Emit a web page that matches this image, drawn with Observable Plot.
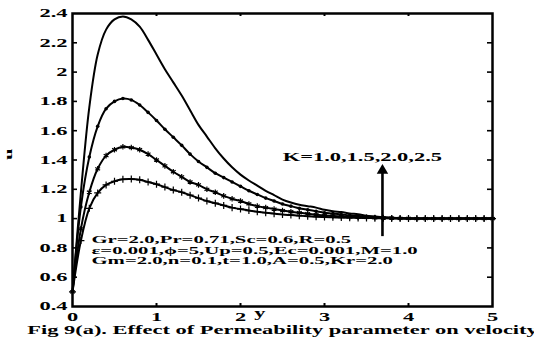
<!DOCTYPE html>
<html><head><meta charset="utf-8">
<script src="https://cdn.jsdelivr.net/npm/d3@7"></script>
<script src="https://cdn.jsdelivr.net/npm/@observablehq/plot@0.6"></script>
<style>
html,body{margin:0;padding:0;background:#fff}
#chart svg{display:block}
#chart svg text{font-family:'Liberation Serif','Times New Roman',serif;font-weight:bold;fill:#000}
</style>
</head><body><div id="chart"></div>
<script>
// distance y (horizontal axis)
const yPos = [0,0.1,0.2,0.3,0.4,0.5,0.6,0.7,0.8,0.9,1.0,1.1,1.2,1.3,1.4,1.5,1.6,1.7,1.8,1.9,2.0,2.1,2.2,2.3,2.4,2.5,2.6,2.7,2.8,2.9,3.0,3.1,3.2,3.3,3.4,3.5,3.6,3.7,3.8,3.9,4.0,4.1,4.2,4.3,4.4,4.5,4.6,4.7,4.8,4.9,5.0];
// velocity u for each permeability K
const uK25 = [0.5,1.18,1.76,2.12,2.29,2.36,2.38,2.36,2.31,2.22,2.12,2.02,1.93,1.84,1.74,1.64,1.56,1.48,1.41,1.35,1.30,1.26,1.225,1.19,1.16,1.13,1.11,1.095,1.085,1.075,1.06,1.05,1.045,1.035,1.03,1.02,1.015,1.01,1.006,1.004,1.002,1,1,1,1,1,1,1,1,1,1];
const uK20 = [0.5,1.08,1.42,1.63,1.75,1.80,1.82,1.81,1.775,1.725,1.67,1.61,1.555,1.50,1.44,1.39,1.35,1.31,1.28,1.25,1.22,1.19,1.165,1.14,1.12,1.10,1.085,1.07,1.06,1.05,1.04,1.035,1.028,1.022,1.017,1.013,1.01,1.007,1.005,1.003,1.002,1,1,1,1,1,1,1,1,1,1];
const uK15 = [0.5,0.93,1.18,1.34,1.43,1.47,1.49,1.485,1.47,1.44,1.40,1.36,1.32,1.285,1.25,1.23,1.20,1.18,1.155,1.135,1.12,1.10,1.085,1.075,1.065,1.055,1.047,1.04,1.033,1.027,1.022,1.018,1.015,1.012,1.01,1.008,1.006,1.004,1.003,1.002,1.001,1,1,1,1,1,1,1,1,1,1];
const uK10 = [0.5,0.85,1.07,1.175,1.23,1.255,1.268,1.27,1.265,1.25,1.235,1.215,1.195,1.18,1.16,1.14,1.12,1.105,1.09,1.075,1.065,1.055,1.047,1.04,1.034,1.028,1.024,1.02,1.016,1.013,1.011,1.009,1.007,1.006,1.005,1.004,1.003,1.002,1.001,1.001,1,1,1,1,1,1,1,1,1,1,1];
const kValues = ["2.5","2.0","1.5","1.0"];
const xTicks = [0,1,2,3,4,5];
const yTicks = [0.4,0.6,0.8,1.0,1.2,1.4,1.6,1.8,2.0,2.2,2.4];
const xLabel = "y";
const yLabel = "u";
const kLabel = "K=1.0,1.5,2.0,2.5";
const paramLines = ["Gr=2.0,Pr=0.71,Sc=0.6,R=0.5","\u03b5=0.001,\u03d5=5,Up=0.5,Ec=0.001,M=1.0","Gm=2.0,n=0.1,t=1.0,A=0.5,Kr=2.0"];
const caption = "Fig 9(a). Effect of Permeability parameter on velocity";

const series = [uK25, uK20, uK15, uK10];
const rows = [];
series.forEach((vals, si) => vals.forEach((u, i) => rows.push({k: kValues[si], y: yPos[i], u})));

const W = 534, H = 342, mL = 72, mR = 42, mT = 13, mB = 36;
const innerW = W - mL - mR, innerH = H - mT - mB;
const xInner = xTicks.slice(1, -1);
const yInner = yTicks.slice(1, -1);
const fmtY = d => String(+d.toFixed(1));

const chart = Plot.plot({
  width: W, height: H,
  marginLeft: mL, marginRight: mR, marginTop: mT, marginBottom: mB,
  style: {fontFamily: "'Liberation Serif', 'Times New Roman', serif", fontWeight: "bold", fontSize: "11px", color: "black", background: "white"},
  x: {domain: [0, 5], axis: null},
  y: {domain: [0.4, 2.4], axis: null},
  marks: [
    Plot.line(rows, {x: "y", y: "u", z: "k", stroke: "black", strokeWidth: 2, curve: "catmull-rom"}),
    Plot.dot(rows.filter(d => d.k === "2.0"), {x: "y", y: "u", r: 1.8, fill: "black", stroke: "none"}),
    Plot.dot(rows.filter(d => d.k === "1.5"), {x: "y", y: "u", r: 2.6, symbol: "asterisk", stroke: "black", strokeWidth: 1.2}),
    Plot.dot(rows.filter(d => d.k === "1.0"), {x: "y", y: "u", r: 2.4, symbol: "plus", stroke: "black", strokeWidth: 1.2}),
    Plot.ruleX(xInner, {insetTop: innerH - 3, stroke: "black", strokeWidth: 2}),
    Plot.ruleX(xInner, {insetBottom: innerH - 3, stroke: "black", strokeWidth: 2}),
    Plot.ruleY(yInner, {insetLeft: innerW - 5, stroke: "black", strokeWidth: 1.6}),
    Plot.ruleY(yInner, {insetRight: innerW - 5, stroke: "black", strokeWidth: 1.6}),
    Plot.frame({stroke: "black", strokeWidth: 2.5}),
    // tick labels drawn through the scales
    Plot.text(xTicks, {x: d => d, frameAnchor: "bottom", lineAnchor: "top", dy: 5.5, text: d => String(d), fontSize: 12, fill: "black"}),
    Plot.text(yTicks, {y: d => d, frameAnchor: "left", textAnchor: "end", dx: -5, text: fmtY, fontSize: 12, fill: "black"}),
    // annotation arrow
    Plot.ruleX([3.69], {y1: () => 0.877, y2: () => 1.33, stroke: "black", strokeWidth: 2.6}),
    Plot.dot([3.69], {x: d => d, y: () => 1.328, symbol: "triangle", r: 4.25, fill: "black", stroke: "none"}),
    Plot.text([kLabel], {x: () => 3.45, y: () => 1.42, text: d => d, fontSize: 12, fill: "black"}),
    Plot.text(paramLines, {x: () => 0.226, y: (d, i) => 0.857 - i * 0.073, text: d => d, textAnchor: "start", fontSize: 10.8, fill: "black", className: "params"}),
    Plot.text([xLabel], {x: () => 2.23, frameAnchor: "bottom", dy: 10.5, text: d => d, fontSize: 12, fill: "black"}),
    Plot.text([yLabel], {frameAnchor: "left", dx: -64, rotate: -90, text: d => d, fontSize: 11, fill: "black"}),
    Plot.text([caption], {frameAnchor: "bottom", dy: 27.5, text: d => d, fontSize: 12, fill: "black"})
  ]
});
document.getElementById("chart").appendChild(chart);

// the original figure's lettering is horizontally stretched; widen every label the same way
const STRETCH = 1.87;
chart.querySelectorAll("text, tspan").forEach(t => {
  if (t.querySelector("tspan")) return;
  const L = t.getComputedTextLength();
  const f = t.closest(".params") ? 1.92 : STRETCH;
  if (L > 0) {
    t.setAttribute("textLength", (L * f).toFixed(1));
    t.setAttribute("lengthAdjust", "spacingAndGlyphs");
  }
});
</script>
</body></html>
